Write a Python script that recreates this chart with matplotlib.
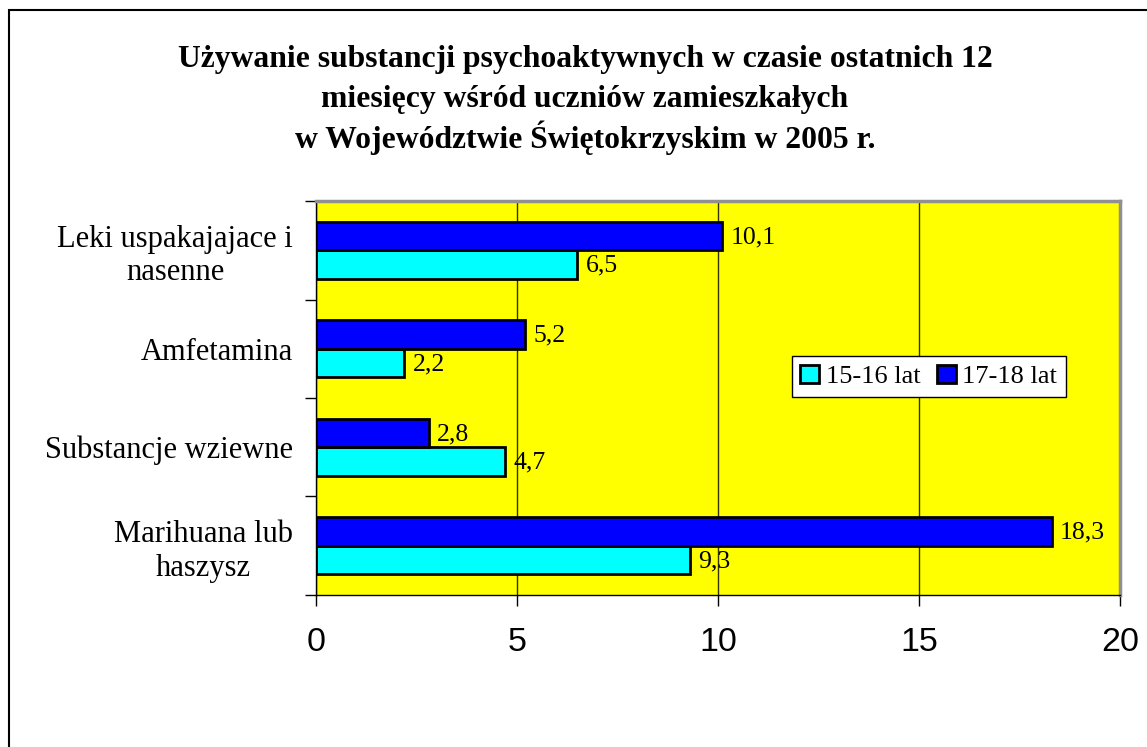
import matplotlib
matplotlib.use("Agg")
import matplotlib.pyplot as plt
from matplotlib.patches import Rectangle
import numpy as np

categories = ["Marihuana lub\nhaszysz", "Substancje wziewne", "Amfetamina", "Leki uspakajajace i\nnasenne"]
series_names = ["15-16 lat", "17-18 lat"]
vals_1516 = [9.3, 4.7, 2.2, 6.5]
vals_1718 = [18.3, 2.8, 5.2, 10.1]
xticks = [0, 5, 10, 15, 20]
title_lines = ["Używanie substancji psychoaktywnych w czasie ostatnich 12",
               "miesięcy wśród uczniów zamieszkałych",
               "w Województwie Świętokrzyskim w 2005 r."]

serif = ["Liberation Serif", "DejaVu Serif"]
sans = ["Liberation Sans", "DejaVu Sans"]

fig = plt.figure(figsize=(11.47, 7.47), dpi=100)
fig.patch.set_facecolor("white")
ax = fig.add_axes([0.2755, 0.2035, 0.701, 0.5274])
ax.set_facecolor("#FFFF00")

y = np.arange(len(categories))
h = 0.29
b1 = ax.barh(y - h / 2, vals_1516, height=h, color="#00FFFF", edgecolor="black", linewidth=2, label=series_names[0], zorder=3)
b2 = ax.barh(y + h / 2, vals_1718, height=h, color="#0000FF", edgecolor="black", linewidth=2, label=series_names[1], zorder=3)

for bars, vals in ((b1, vals_1516), (b2, vals_1718)):
    for rect, v in zip(bars, vals):
        ax.annotate(f"{v:.1f}".replace(".", ","), (v, rect.get_y() + rect.get_height() / 2),
                    xytext=(6, -1), textcoords="offset points", va="center", ha="left",
                    fontsize=18.5, family=serif, zorder=4)

ax.set_xlim(0, 20)
ax.set_ylim(-0.5, 3.5)
ax.set_xticks(xticks)
ax.set_xticklabels([str(t) for t in xticks], fontsize=24.5, family=sans)
ax.tick_params(axis="x", direction="out", length=8, width=1, pad=15)
ax.set_yticks(np.arange(-0.5, 4.0, 1.0))
ax.set_yticklabels([])
ax.tick_params(axis="y", which="major", direction="out", length=8, width=1)
ax.set_yticks(y, minor=True)
ax.set_yticklabels(categories, minor=True, fontsize=22, family=serif, multialignment="center",
                   linespacing=1.2)
ax.tick_params(axis="y", which="minor", length=0, pad=16.5)
ax.xaxis.grid(True, color="#333300", linewidth=1, zorder=1)
ax.set_axisbelow(True)

for s in ("left", "bottom"):
    ax.spines[s].set_color("black")
    ax.spines[s].set_linewidth(1)
for s in ("top", "right"):
    ax.spines[s].set_color("#909090")
    ax.spines[s].set_linewidth(2.5)

leg = ax.legend(handles=[b1, b2], labels=series_names, ncol=2, loc="lower left",
                bbox_to_anchor=(0.592, 0.503), prop={"family": serif, "size": 19},
                fancybox=False, framealpha=1, edgecolor="black", handlelength=0.7,
                handleheight=0.7, handletextpad=0.25, columnspacing=0.65, borderpad=0.32,
                borderaxespad=0)
leg.get_frame().set_linewidth(1)

for i, line in enumerate(title_lines):
    fig.text(0.51, 1 - (67 + 40.5 * i) / 747, line, ha="center", va="baseline", fontsize=22.8,
             fontweight="bold", family=serif)

fig.patches.append(Rectangle((9 / 1147, -0.1), 1.2, 1 - 10 / 747 + 0.1, transform=fig.transFigure,
                             fill=False, edgecolor="black", linewidth=1.5))

fig.savefig("out.png", dpi=100)
